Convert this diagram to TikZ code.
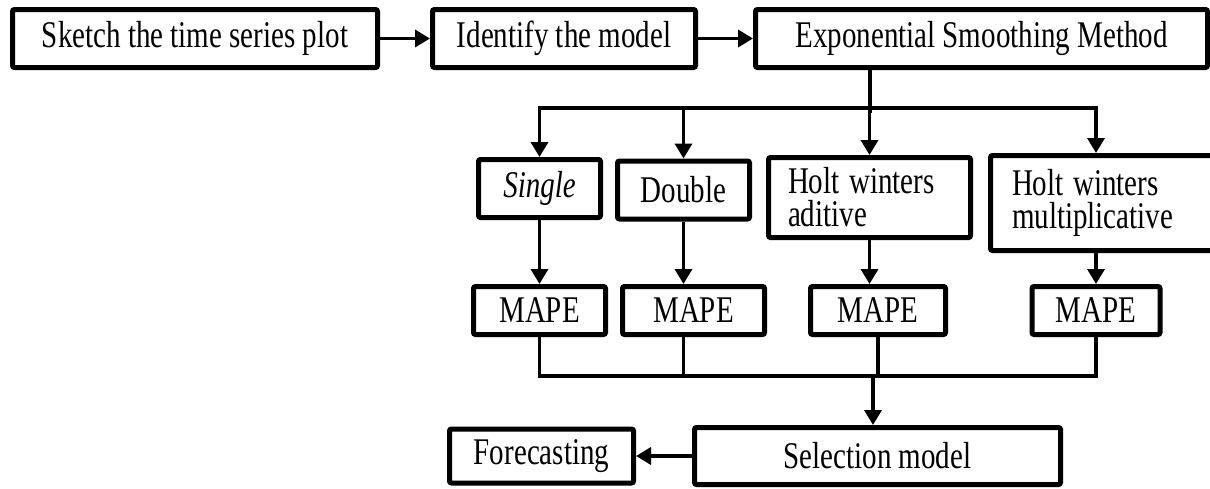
\documentclass[tikz,border=0pt]{standalone}
\usepackage{fontspec}
\setmainfont{Liberation Serif}
\usetikzlibrary{arrows.meta,positioning}
\tikzset{
  basebox/.style={rectangle,draw=black,line width=2.5pt,rounded corners=1pt,align=center,
    font=\fontsize{14.5}{16.5}\selectfont,inner sep=0pt},
  stepbox/.style={basebox,minimum height=29pt},
  modelbox/.style={basebox,minimum height=29pt},
  holtbox/.style={basebox,align=left},
  mapebox/.style={basebox,minimum height=24pt},
  conn/.style={line width=1.75pt},
  arr/.style={conn,-{Triangle[length=7.5pt,width=8.5pt]}}
}
\newcommand{\tall}[1]{\scalebox{1}[1.3]{#1}}

\begin{document}
\begin{tikzpicture}[x=0.5pt,y=-0.5pt]
  \useasboundingbox (0,0) rectangle (1210,488);

  %% Top row
  \node[stepbox,minimum width=182.5pt] (sketch) at (195,38.5) {\tall{Sketch the time series plot}};
  \node[stepbox,minimum width=131.5pt,right=25pt of sketch] (ident) {\tall{Identify the model}};
  \node[stepbox,minimum width=226pt,right=27.5pt of ident] (esm) {\tall{Exponential Smoothing Method}};

  %% Smoothing models
  \node[modelbox,minimum width=61pt] (single) at (539.5,188.5) {\tall{\textit{Single}}};
  \node[modelbox,minimum width=66pt] (double) at (683.5,190) {\tall{Double}};
  \node[holtbox,minimum height=40pt,inner xsep=9.75pt,text width=81.5pt] (hwa) at (869.5,197.5)
    {\tall{Holt winters}\\\tall{aditive}};
  \node[holtbox,minimum height=47.5pt,inner xsep=10.75pt,text width=92pt] (hwm) at (1104,203)
    {\tall{Holt winters}\\\tall{multiplicative}};

  %% Error measures
  \node[mapebox,minimum width=66pt] (mape1) at (539.5,310.5) {\tall{MAPE}};
  \node[mapebox,minimum width=71pt] (mape2) at (693.5,310.5) {\tall{MAPE}};
  \node[mapebox,minimum width=67.5pt] (mape3) at (878,310.5) {\tall{MAPE}};
  \node[mapebox,minimum width=64pt] (mape4) at (1096,310.5) {\tall{MAPE}};

  %% Bottom row
  \node[basebox,minimum width=183pt,minimum height=28.5pt] (sel) at (877.5,456) {\tall{Selection model}};
  \node[basebox,minimum width=92pt,minimum height=27pt,left=28pt of sel] (fore) {\tall{Forecasting}};

  \coordinate (split) at (870,108);
  \coordinate (bus) at (873,376);

  %% Arrows
  \draw[arr] (sketch.east) -- (ident.west);
  \draw[arr] (ident.east) -- (esm.west);
  \draw[conn] (split |- esm.south) -- ([yshift=-2.5pt]split);
  \draw[arr] (split) -| (single.north);
  \draw[arr] (split) -| (hwm.north -| mape4);
  \draw[arr] (double.north |- split) -- (double.north);
  \draw[arr] (hwa.north |- split) -- (hwa.north);

  \draw[arr] (single.south) -- (mape1.north);
  \draw[arr] (double.south) -- (double.south |- mape2.north);
  \draw[arr] (hwa.south) -- (hwa.south |- mape3.north);
  \draw[arr] (hwm.south -| mape4) -- (mape4.north);

  \draw[conn] (mape1.south) |- (mape4.south |- bus) -- (mape4.south);
  \draw[conn] (mape2.south -| double) -- (double |- bus);
  \draw[conn] (mape3.south) -- (mape3.south |- bus);
  \draw[arr] (bus) -- (bus |- sel.north);
  \draw[arr] (sel.west) -- (fore.east);
\end{tikzpicture}
\end{document}
